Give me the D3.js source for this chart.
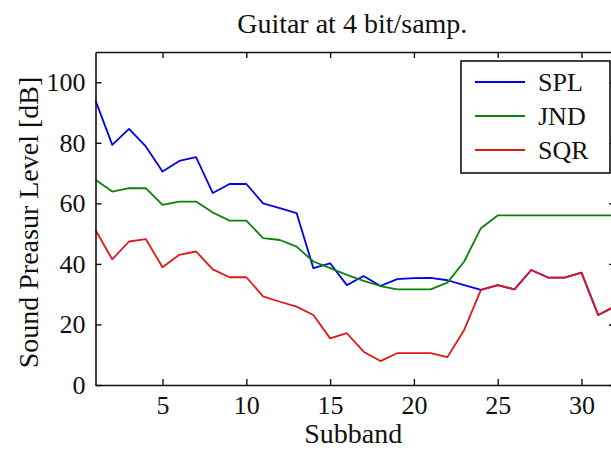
<!DOCTYPE html>
<html>
<head>
<meta charset="utf-8">
<script src="https://cdn.jsdelivr.net/npm/d3@7"></script>
<style>
  html, body { margin: 0; padding: 0; background: #fff; }
  svg { display: block; }
  text { font-family: "Liberation Serif", "Times New Roman", serif; fill: #111; }
</style>
</head>
<body>
<svg id="chart" width="611" height="450"></svg>
<script>
// Subband index (x) and the three level curves in dB
const subbands = [1, 2, 3, 4, 5, 6, 7, 8, 9, 10, 11, 12, 13, 14, 15, 16,
                  17, 18, 19, 20, 21, 22, 23, 24, 25, 26, 27, 28, 29, 30, 31, 32];
const splValues = [94, 79.3, 84.6, 78.8, 70.5, 74, 75.3, 63.4, 66.4, 66.4, 60, 58.4,
                   56.8, 38.6, 40.2, 33, 36, 32.7, 35, 35.3, 35.4, 34.6, 33, 31.4,
                   33, 31.6, 38, 35.5, 35.5, 37.1, 23.1, 26];
const jndValues = [67.8, 63.9, 65, 65, 59.5, 60.6, 60.6, 57, 54.3, 54.3, 48.5, 47.9,
                   45.7, 40.8, 38.6, 36.4, 34.4, 32.7, 31.6, 31.6, 31.6, 33.8, 40.8, 51.8,
                   56, 56, 56, 56, 56, 56, 56, 56];
const sqrValues = [51.2, 41.5, 47.4, 48.2, 38.9, 43, 44.1, 38.2, 35.6, 35.6, 29.3, 27.5,
                   25.9, 23.1, 15.4, 17.1, 11, 7.9, 10.5, 10.5, 10.5, 9.2, 18.2, 31.4,
                   33, 31.6, 38, 35.5, 35.5, 37.1, 23.1, 26];

const seriesNames = ["SPL", "JND", "SQR"];
const seriesColors = ["#0000f0", "#0a820a", "#e01818"];
const xTicks = [5, 10, 15, 20, 25, 30];
const yTicks = [0, 20, 40, 60, 80, 100];

const titleText = "Guitar at 4 bit/samp.";
const xLabel = "Subband";
const yLabel = "Sound Preasur Level [dB]";

const svg = d3.select("#chart");
const plot = { left: 95.5, right: 615, top: 52, bottom: 385 };

const x = d3.scaleLinear().domain([1, 32]).range([plot.left, plot.right]);
const y = d3.scaleLinear().domain([0, 110]).range([plot.bottom, plot.top]);

const axisColor = "#111";
const fontSize = 26;

// Series curves
const series = [splValues, jndValues, sqrValues];
const line = d3.line()
  .x((d, i) => x(subbands[i]))
  .y(d => y(d));

series.forEach((vals, k) => {
  svg.append("path")
    .datum(vals)
    .attr("fill", "none")
    .attr("stroke", seriesColors[k])
    .attr("stroke-width", 1.8)
    .attr("stroke-linejoin", "round")
    .attr("d", line);
});

// Box axes with inward ticks
function styleAxis(g) {
  g.select(".domain").attr("stroke", axisColor).attr("stroke-width", 1.6);
  g.selectAll(".tick line").attr("stroke", axisColor).attr("stroke-width", 1.4);
  g.selectAll(".tick text")
    .attr("fill", "#111")
    .style("font-family", "'Liberation Serif', serif")
    .style("font-size", fontSize + "px");
}

svg.append("g")
  .attr("transform", `translate(0,${plot.bottom})`)
  .call(d3.axisBottom(x).tickValues(xTicks).tickSizeInner(-6).tickSizeOuter(0).tickPadding(11))
  .call(styleAxis);

svg.append("g")
  .attr("transform", `translate(0,${plot.top})`)
  .call(d3.axisTop(x).tickValues(xTicks).tickSizeInner(-6).tickSizeOuter(0).tickFormat(""))
  .call(styleAxis);

svg.append("g")
  .attr("transform", `translate(${plot.left},0)`)
  .call(d3.axisLeft(y).tickValues(yTicks).tickSizeInner(-6).tickSizeOuter(0).tickPadding(10))
  .call(styleAxis);

svg.append("g")
  .attr("transform", `translate(${plot.right},0)`)
  .call(d3.axisRight(y).tickValues(yTicks).tickSizeInner(-6).tickSizeOuter(0).tickFormat(""))
  .call(styleAxis);

// Title and axis labels
svg.append("text")
  .attr("x", (plot.left + plot.right) / 2 - 3)
  .attr("y", 33)
  .attr("text-anchor", "middle")
  .style("font-size", "28px")
  .text(titleText);

svg.append("text")
  .attr("x", (plot.left + plot.right) / 2 - 2)
  .attr("y", 443)
  .attr("text-anchor", "middle")
  .style("font-size", "28px")
  .text(xLabel);

svg.append("text")
  .attr("transform", `translate(38,${(plot.top + plot.bottom) / 2 + 4}) rotate(-90)`)
  .attr("text-anchor", "middle")
  .style("font-size", "28px")
  .text(yLabel);

// Legend
const legend = svg.append("g");
legend.append("rect")
  .attr("x", 461).attr("y", 61)
  .attr("width", 149).attr("height", 112)
  .attr("fill", "#fff")
  .attr("stroke", axisColor)
  .attr("stroke-width", 1.6);

const legendRowY = d3.scalePoint().domain(seriesNames).range([82, 150]);
seriesNames.forEach((name, k) => {
  const ry = legendRowY(name);
  legend.append("line")
    .attr("x1", 475).attr("x2", 525)
    .attr("y1", ry).attr("y2", ry)
    .attr("stroke", seriesColors[k])
    .attr("stroke-width", 1.8);
  legend.append("text")
    .attr("x", 538)
    .attr("y", ry + 9)
    .style("font-size", fontSize + "px")
    .text(name);
});
</script>
</body>
</html>
